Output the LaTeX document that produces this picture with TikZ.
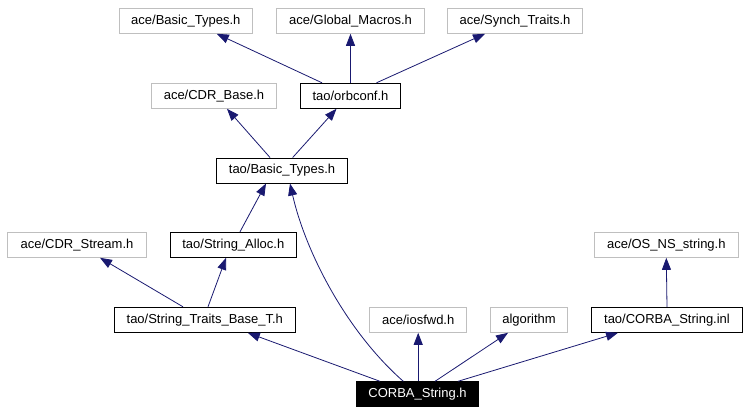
\documentclass[tikz,border=0pt]{standalone}
\usepackage{fontspec}
\setmainfont{Liberation Sans}
\usepackage{tikz}
\usetikzlibrary{arrows.meta}

\begin{document}
\begin{tikzpicture}[x=1pt,y=-1pt,
        file/.style={draw, line width=1pt, minimum height=25pt, inner sep=0pt, font=\fontsize{13}{15}\selectfont},
        ext/.style={file, draw=black!25},
        main/.style={file, fill=black, text=white},
        inc/.style={draw=midnightblue, line width=0.8pt, -{Triangle[length=12pt,width=9pt]}}]
        \definecolor{midnightblue}{RGB}{25,25,112}
        \useasboundingbox (0,0) rectangle (747,413);

        \node[ext, minimum width=133pt] (aceBasic) at (185.8,20.8) {ace/Basic\_Types.h};
        \node[ext, minimum width=148pt] (aceGlobal) at (350.5,20.8) {ace/Global\_Macros.h};
        \node[ext, minimum width=135pt] (aceSynch) at (515,20.8) {ace/Synch\_Traits.h};
        \node[ext, minimum width=125pt] (aceCDRBase) at (214,95.8) {ace/CDR\_Base.h};
        \node[file, minimum width=100pt] (orbconf) at (350.5,95.8) {tao/orbconf.h};
        \node[file, minimum width=131pt] (taoBasic) at (282,170.5) {tao/Basic\_Types.h};
        \node[ext, minimum width=139pt] (aceCDRStream) at (77,244.8) {ace/CDR\_Stream.h};
        \node[file, minimum width=126pt] (strAlloc) at (233.3,244.8) {tao/String\_Alloc.h};
        \node[ext, minimum width=144pt] (aceOSstr) at (666.3,244.8) {ace/OS\_NS\_string.h};
        \node[file, minimum width=181pt] (strTraits) at (204.8,319.8) {tao/String\_Traits\_Base\_T.h};
        \node[ext, minimum width=97pt] (iosfwd) at (418.2,319.8) {ace/iosfwd.h};
        \node[ext, minimum width=77pt] (algo) at (529,319.8) {algorithm};
        \node[file, minimum width=151pt] (strInl) at (667,319.8) {tao/CORBA\_String.inl};
        \node[main, minimum width=122pt] (corbaStr) at (417.5,394.3) {CORBA\_String.h};


        \draw[inc] ([xshift=-28.5pt]orbconf.north) -- ([xshift=31pt]aceBasic.south);
        \draw[inc] (orbconf.north) -- (aceGlobal.south);
        \draw[inc] ([xshift=26pt]orbconf.north) -- ([xshift=-30pt]aceSynch.south);
        \draw[inc] ([xshift=-12pt]taoBasic.north) -- ([xshift=13pt]aceCDRBase.south);
        \draw[inc] ([xshift=10.7pt]taoBasic.north) -- ([xshift=-14pt]orbconf.south);
        \draw[inc] ([xshift=6.7pt]strAlloc.north) -- ([xshift=-16pt]taoBasic.south);
        \draw[inc] ([xshift=-21.8pt]strTraits.north) -- ([xshift=23pt]aceCDRStream.south);
        \draw[inc] ([xshift=3.2pt]strTraits.north) -- ([xshift=-7.3pt]strAlloc.south);
        \draw[inc] (strInl.north) -- (aceOSstr.south);
        \draw[inc] ([xshift=-14.2pt]corbaStr.north) .. controls (345,330) and (305,250) .. ([xshift=8pt]taoBasic.south);
        \draw[inc] ([xshift=-37.5pt]corbaStr.north) -- ([xshift=43pt]strTraits.south);
        \draw[inc] (corbaStr.north -| iosfwd.south) -- (iosfwd.south);
        \draw[inc] ([xshift=17.5pt]corbaStr.north) -- ([xshift=-21pt]algo.south);
        \draw[inc] ([xshift=40.5pt]corbaStr.north) -- ([xshift=-49pt]strInl.south);
    \end{tikzpicture}
\end{document}
